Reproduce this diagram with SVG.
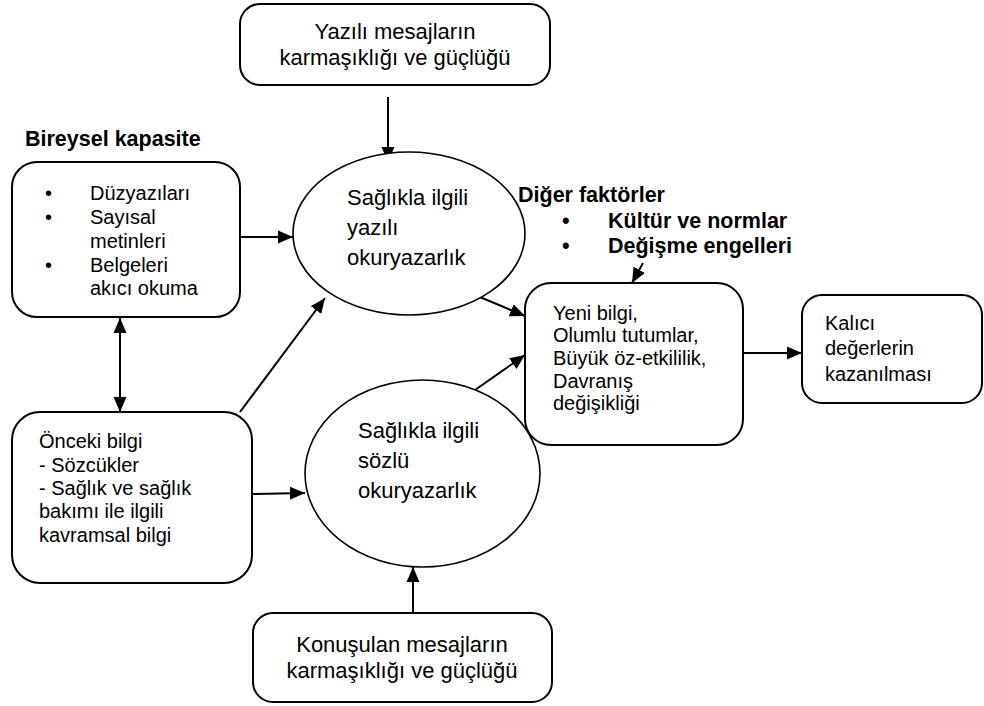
<svg xmlns="http://www.w3.org/2000/svg" width="984" height="706" viewBox="0 0 984 706">
  <defs>
    <marker id="arrow" markerUnits="userSpaceOnUse" markerWidth="16" markerHeight="16" viewBox="0 0 16 16" refX="15" refY="8" orient="auto-start-reverse">
      <path d="M0,1.5 L15,8 L0,14.5 Z" fill="#000"/>
    </marker>
    <style>
      .box { fill: #fff; stroke: #000; stroke-width: 2; }
      .oval { fill: #fff; stroke: #000; stroke-width: 1.6; }
      .t { font-family: "Liberation Sans", Arial, sans-serif; font-size: 20px; fill: #000; }
      .tl { font-family: "Liberation Sans", Arial, sans-serif; font-size: 22px; fill: #000; }
      .b { font-family: "Liberation Sans", Arial, sans-serif; font-size: 21.5px; font-weight: bold; fill: #000; }
      .c { text-anchor: middle; }
      .link { fill: none; stroke: #000; stroke-width: 2; marker-end: url(#arrow); }
    </style>
  </defs>

  <rect width="984" height="706" fill="#fff"/>

  <!-- connectors -->
  <g id="connectors">
    <line class="link" x1="388" y1="97" x2="388" y2="162"/>
    <line class="link" x1="240" y1="237" x2="293" y2="237"/>
    <line class="link" x1="120" y1="318" x2="120" y2="412" marker-start="url(#arrow)"/>
    <line class="link" x1="240" y1="412" x2="325" y2="298"/>
    <line class="link" x1="252" y1="494" x2="305" y2="493"/>
    <line class="link" x1="413" y1="613" x2="413" y2="567"/>
    <line class="link" x1="475" y1="295" x2="525" y2="316"/>
    <line class="link" x1="475" y1="390" x2="525" y2="355"/>
    <line class="link" x1="643" y1="263" x2="632" y2="283"/>
    <line class="link" x1="743" y1="353" x2="802" y2="353"/>
  </g>

  <!-- Yazılı mesajlar -->
  <g id="written-messages">
    <rect class="box" x="240" y="4" width="310" height="81" rx="20"/>
    <text class="tl c" x="395" y="39">Yazılı mesajların</text>
    <text class="tl c" x="395" y="65">karmaşıklığı ve güçlüğü</text>
  </g>

  <!-- Bireysel kapasite -->
  <g id="individual-capacity">
    <text class="b" x="25" y="146">Bireysel kapasite</text>
    <rect class="box" x="12" y="162" width="228" height="155" rx="25"/>
    <g class="t">
      <text x="45" y="200">•</text>
      <text x="90" y="200">Düzyazıları</text>
      <text x="45" y="224">•</text>
      <text x="90" y="224">Sayısal</text>
      <text x="90" y="248">metinleri</text>
      <text x="45" y="272">•</text>
      <text x="90" y="272">Belgeleri</text>
      <text x="90" y="295">akıcı okuma</text>
    </g>
  </g>

  <!-- Önceki bilgi -->
  <g id="prior-knowledge">
    <rect class="box" x="12" y="412" width="240" height="171" rx="28"/>
    <g class="t">
      <text x="39" y="448">Önceki bilgi</text>
      <text x="39" y="472">- Sözcükler</text>
      <text x="39" y="495">- Sağlık ve sağlık</text>
      <text x="39" y="518">bakımı ile ilgili</text>
      <text x="39" y="542">kavramsal bilgi</text>
    </g>
  </g>

  <!-- Yazılı okuryazarlık -->
  <g id="written-literacy">
    <ellipse class="oval" cx="409" cy="233.5" rx="116" ry="81.5"/>
    <text class="tl" x="347" y="205">Sağlıkla ilgili</text>
    <text class="tl" x="347" y="235">yazılı</text>
    <text class="tl" x="347" y="265">okuryazarlık</text>
  </g>

  <!-- Sözlü okuryazarlık -->
  <g id="oral-literacy">
    <ellipse class="oval" cx="422.5" cy="473.5" rx="117.5" ry="93.5"/>
    <text class="tl" x="358" y="438">Sağlıkla ilgili</text>
    <text class="tl" x="358" y="468">sözlü</text>
    <text class="tl" x="358" y="498">okuryazarlık</text>
  </g>

  <!-- Konuşulan mesajlar -->
  <g id="spoken-messages">
    <rect class="box" x="253" y="613" width="299" height="89" rx="20"/>
    <text class="tl c" x="402" y="652">Konuşulan mesajların</text>
    <text class="tl c" x="402" y="678">karmaşıklığı ve güçlüğü</text>
  </g>

  <!-- Diğer faktörler -->
  <g id="other-factors">
    <text class="b" x="518" y="202">Diğer faktörler</text>
    <text class="b" x="562" y="228">•</text>
    <text class="b" x="608" y="228">Kültür ve normlar</text>
    <text class="b" x="562" y="253">•</text>
    <text class="b" x="608" y="253">Değişme engelleri</text>
  </g>

  <!-- Sonuçlar -->
  <g id="outcomes">
    <rect class="box" x="525" y="283" width="218" height="162" rx="26"/>
    <g class="t">
      <text x="553" y="320">Yeni bilgi,</text>
      <text x="553" y="342">Olumlu tutumlar,</text>
      <text x="553" y="365">Büyük öz-etkililik,</text>
      <text x="553" y="388">Davranış</text>
      <text x="553" y="410">değişikliği</text>
    </g>
  </g>

  <!-- Kalıcı değerler -->
  <g id="lasting-values">
    <rect class="box" x="802" y="295" width="180" height="108" rx="20"/>
    <g class="t">
      <text x="825" y="330">Kalıcı</text>
      <text x="825" y="355">değerlerin</text>
      <text x="825" y="381">kazanılması</text>
    </g>
  </g>
</svg>
